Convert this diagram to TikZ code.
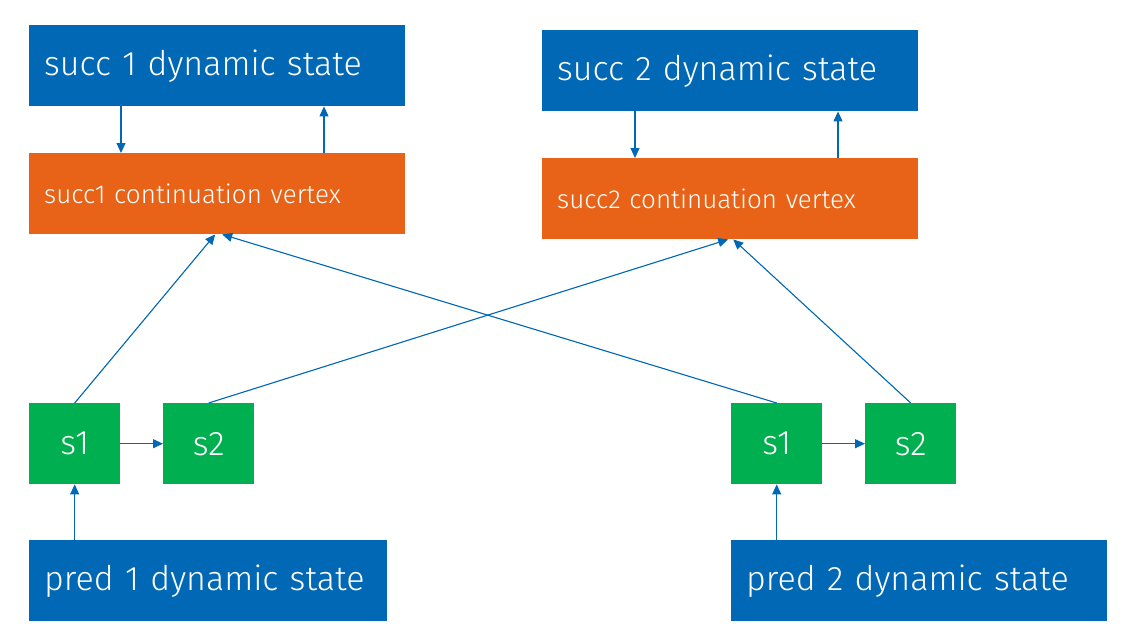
\documentclass[tikz,border=0pt]{standalone}
\usepackage{fontspec}
\setmainfont{Fira Sans}[UprightFont=* Light]
\usetikzlibrary{arrows.meta,calc}
\definecolor{iblue}{HTML}{0068B5}
\definecolor{iorange}{HTML}{E86317}
\definecolor{igreen}{HTML}{00AF4F}
\begin{document}
\begin{tikzpicture}[x=1pt,y=-1pt,
  bigbox/.style={fill=iblue,text=white,anchor=north west,inner xsep=15pt,inner ysep=0pt,
     minimum height=81pt,align=left,font=\fontsize{34}{38}\selectfont},
  contbox/.style={fill=iorange,text=white,anchor=north west,inner xsep=15pt,inner ysep=0pt,
     minimum height=81pt,align=left,font=\fontsize{26}{30}\selectfont},
  sbox/.style={fill=igreen,text=white,anchor=north west,inner sep=0pt,
     minimum width=91pt,minimum height=81pt,font=\fontsize{34}{38}\selectfont},
  arr/.style={draw=iblue,line width=1.1pt,-{Triangle[length=10pt,width=9pt]},fill=iblue}]
\useasboundingbox (0,0) rectangle (1130,632);
\node[bigbox,text width=346pt] (sd1) at (29,25) {succ 1 dynamic state};
\node[contbox,text width=346pt] (sc1) at (29,153) {succ1 continuation vertex};
\node[bigbox,text width=346pt] (sd2) at (542,30) {succ 2 dynamic state};
\node[contbox,text width=346pt] (sc2) at (542,158) {succ2 continuation vertex};
\node[sbox] (la) at (29,403) {s1};
\node[sbox] (lb) at (163,403) {s2};
\node[sbox] (ra) at (731,403) {s1};
\node[sbox] (rb) at (865,403) {s2};
\node[bigbox,text width=328pt,minimum height=81pt] (p1) at (29,540) {pred 1 dynamic state};
\node[bigbox,text width=346pt] (p2) at (731,540) {pred 2 dynamic state};
% vertical arrows
\draw[arr] ([xshift=92pt]sd1.south west) -- ([xshift=92pt]sc1.north west);
\draw[arr] ([xshift=295pt]sc1.north west) -- ([xshift=295pt]sd1.south west);
\draw[arr] ([xshift=93pt]sd2.south west) -- ([xshift=93pt]sc2.north west);
\draw[arr] ([xshift=296pt]sc2.north west) -- ([xshift=296pt]sd2.south west);
% s1 -> s2
\draw[arr] (la.east) -- (lb.west);
\draw[arr] (ra.east) -- (rb.west);
% pred -> s1
\draw[arr] (p1.north -| la.south) -- (la.south);
\draw[arr] (p2.north -| ra.south) -- (ra.south);
% diagonals
\draw[arr] (la.north) -- ([xshift=-2pt]sc1.south);
\draw[arr] (ra.north) -- ([xshift=5pt]sc1.south);
\draw[arr] (lb.north) -- ([xshift=-2pt]sc2.south);
\draw[arr] (rb.north) -- ([xshift=3pt]sc2.south);
\end{tikzpicture}
\end{document}
